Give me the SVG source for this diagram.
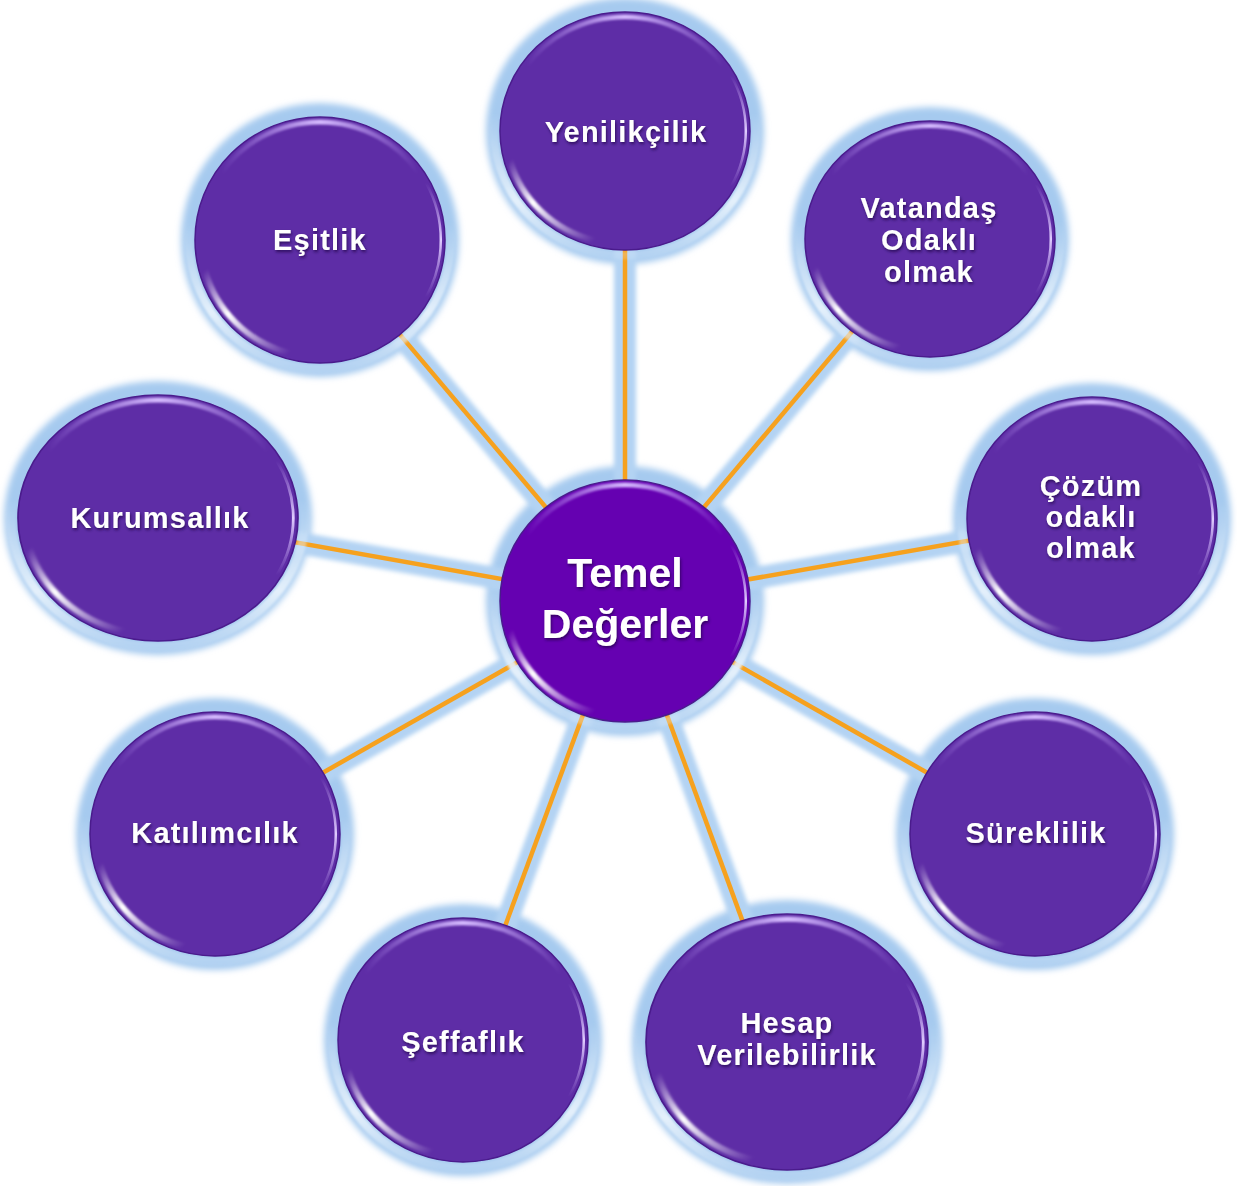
<svg xmlns="http://www.w3.org/2000/svg" xmlns:xlink="http://www.w3.org/1999/xlink" width="1237" height="1186" viewBox="0 0 1237 1186">
<style>
.lbl{font-family:"Liberation Sans",Arial,sans-serif;font-weight:bold;font-size:29px;letter-spacing:1.2px;fill:#ffffff;text-anchor:middle;filter:url(#tshadow)}
.ctr{font-family:"Liberation Sans",Arial,sans-serif;font-weight:bold;font-size:41px;fill:#ffffff;text-anchor:middle;filter:url(#tshadow)}
.halo{fill:#a6caef;filter:url(#blur3)}
.lhalo{stroke:#b3d3f3;stroke-width:22;fill:none;filter:url(#blur2)}
.line{stroke:#f6a11e;stroke-width:4.5;fill:none}
</style>
<defs>
<filter id="blur3" x="-20%" y="-20%" width="140%" height="140%"><feGaussianBlur stdDeviation="3"/></filter>
<filter id="blur2" x="-20%" y="-20%" width="140%" height="140%"><feGaussianBlur stdDeviation="2"/></filter>
<filter id="soft" x="-20%" y="-20%" width="140%" height="140%"><feGaussianBlur stdDeviation="1.2"/></filter>
<filter id="tshadow" x="-20%" y="-40%" width="140%" height="180%"><feDropShadow dx="1" dy="2" stdDeviation="1.5" flood-color="#1e0640" flood-opacity="0.7"/></filter>
<linearGradient id="topHi" x1="0" y1="0" x2="1" y2="0">
<stop offset="0" stop-color="#c7a6ff" stop-opacity="0"/>
<stop offset="0.5" stop-color="#d6bcff" stop-opacity="1"/>
<stop offset="1" stop-color="#c7a6ff" stop-opacity="0"/>
</linearGradient>
<linearGradient id="blHi" x1="0" y1="0" x2="1" y2="1">
<stop offset="0" stop-color="#ffffff" stop-opacity="0"/>
<stop offset="0.4" stop-color="#ffffff" stop-opacity="1"/>
<stop offset="1" stop-color="#ffffff" stop-opacity="0"/>
</linearGradient>
<linearGradient id="rHi" x1="0" y1="0" x2="0" y2="1">
<stop offset="0" stop-color="#c6a8f5" stop-opacity="0"/>
<stop offset="0.5" stop-color="#e0ccff" stop-opacity="1"/>
<stop offset="1" stop-color="#c6a8f5" stop-opacity="0"/>
</linearGradient>
<linearGradient id="haloIn" x1="0" y1="0" x2="1" y2="1">
<stop offset="0.45" stop-color="#ddebfa" stop-opacity="0"/>
<stop offset="0.7" stop-color="#e4f0fb" stop-opacity="1"/>
<stop offset="0.9" stop-color="#ddebfa" stop-opacity="0"/>
</linearGradient>
<g id="bubble">
<circle r="131" fill="none" stroke="url(#haloIn)" stroke-width="8" filter="url(#soft)" transform="rotate(45)"/>
<circle r="125" fill="currentColor" stroke="#4a1b8c" stroke-width="1.5"/>
<path d="M-98.3,-68.8 A120,120 0 0 1 98.3,-68.8" stroke="url(#topHi)" stroke-width="5" fill="none" filter="url(#soft)"/>
<path d="M-114.9,30.8 A119,119 0 0 0 -30.8,114.9" stroke="url(#blHi)" stroke-width="6" fill="none" filter="url(#soft)"/>
<path d="M106,-58 A121,121 0 0 1 106,58" stroke="url(#rHi)" stroke-width="2.5" fill="none"/>
</g>
</defs>
<rect width="1237" height="1186" fill="#ffffff"/>
<g id="halos">
<ellipse class="halo" cx="625" cy="131" rx="139" ry="133"/>
<ellipse class="halo" cx="930" cy="239" rx="139" ry="132"/>
<ellipse class="halo" cx="320" cy="240" rx="139" ry="137"/>
<ellipse class="halo" cx="158" cy="518" rx="154" ry="137"/>
<ellipse class="halo" cx="1092" cy="519" rx="139" ry="136"/>
<ellipse class="halo" cx="215" cy="834" rx="139" ry="136"/>
<ellipse class="halo" cx="1035" cy="834" rx="139" ry="136"/>
<ellipse class="halo" cx="463" cy="1040" rx="139" ry="136"/>
<ellipse class="halo" cx="787" cy="1042" rx="155" ry="142"/>
<ellipse class="halo" cx="625" cy="601" rx="139" ry="135"/>
</g>
<g id="connectors">
<g class="lhalo">
<line x1="625" y1="601" x2="625" y2="131"/>
<line x1="625" y1="601" x2="930" y2="239"/>
<line x1="625" y1="601" x2="320" y2="240"/>
<line x1="625" y1="601" x2="158" y2="518"/>
<line x1="625" y1="601" x2="1092" y2="519"/>
<line x1="625" y1="601" x2="215" y2="834"/>
<line x1="625" y1="601" x2="1035" y2="834"/>
<line x1="625" y1="601" x2="463" y2="1040"/>
<line x1="625" y1="601" x2="787" y2="1042"/>
</g>
<g class="line">
<line x1="625" y1="601" x2="625" y2="131"/>
<line x1="625" y1="601" x2="930" y2="239"/>
<line x1="625" y1="601" x2="320" y2="240"/>
<line x1="625" y1="601" x2="158" y2="518"/>
<line x1="625" y1="601" x2="1092" y2="519"/>
<line x1="625" y1="601" x2="215" y2="834"/>
<line x1="625" y1="601" x2="1035" y2="834"/>
<line x1="625" y1="601" x2="463" y2="1040"/>
<line x1="625" y1="601" x2="787" y2="1042"/>
</g>
</g>
<g id="node-yenilikcilik">
<use xlink:href="#bubble" href="#bubble" color="#5e2da6" transform="translate(625,131) scale(1,0.952)"/>
<text class="lbl" x="626" y="142">Yenilikçilik</text>
</g>
<g id="node-vatandas">
<use xlink:href="#bubble" href="#bubble" color="#5e2da6" transform="translate(930,239) scale(1,0.944)"/>
<text class="lbl" x="929" y="218">Vatandaş</text>
<text class="lbl" x="929" y="250">Odaklı</text>
<text class="lbl" x="929" y="282">olmak</text>
</g>
<g id="node-esitlik">
<use xlink:href="#bubble" href="#bubble" color="#5e2da6" transform="translate(320,240) scale(1,0.984)"/>
<text class="lbl" x="320" y="250">Eşitlik</text>
</g>
<g id="node-kurumsallik">
<use xlink:href="#bubble" href="#bubble" color="#5e2da6" transform="translate(158,518) scale(1.12,0.984)"/>
<text class="lbl" x="160" y="528">Kurumsallık</text>
</g>
<g id="node-cozum">
<use xlink:href="#bubble" href="#bubble" color="#5e2da6" transform="translate(1092,519) scale(1,0.976)"/>
<text class="lbl" x="1091" y="496">Çözüm</text>
<text class="lbl" x="1091" y="527">odaklı</text>
<text class="lbl" x="1091" y="558">olmak</text>
</g>
<g id="node-katilimcilik">
<use xlink:href="#bubble" href="#bubble" color="#5e2da6" transform="translate(215,834) scale(1,0.976)"/>
<text class="lbl" x="215" y="843">Katılımcılık</text>
</g>
<g id="node-sureklilik">
<use xlink:href="#bubble" href="#bubble" color="#5e2da6" transform="translate(1035,834) scale(1,0.976)"/>
<text class="lbl" x="1036" y="843">Süreklilik</text>
</g>
<g id="node-seffaflik">
<use xlink:href="#bubble" href="#bubble" color="#5e2da6" transform="translate(463,1040) scale(1,0.976)"/>
<text class="lbl" x="463" y="1052">Şeffaflık</text>
</g>
<g id="node-hesap">
<use xlink:href="#bubble" href="#bubble" color="#5e2da6" transform="translate(787,1042) scale(1.128,1.024)"/>
<text class="lbl" x="787" y="1033">Hesap</text>
<text class="lbl" x="787" y="1065">Verilebilirlik</text>
</g>
<g id="node-temel">
<use xlink:href="#bubble" href="#bubble" color="#6501b1" transform="translate(625,601) scale(1,0.968)"/>
<text class="ctr" x="625" y="587">Temel</text>
<text class="ctr" x="625" y="638">Değerler</text>
</g>
</svg>
